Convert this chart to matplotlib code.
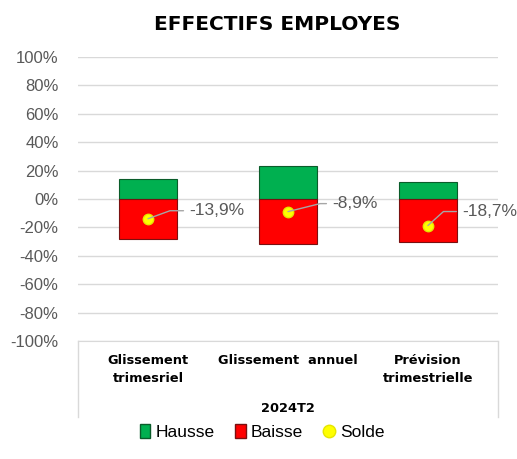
import numpy as np
import matplotlib
matplotlib.use("Agg")
from matplotlib import pyplot as plt
from matplotlib.patches import Patch
from matplotlib.lines import Line2D

categories = ["Glissement\ntrimesriel", "Glissement  annuel", "Prévision\ntrimestrielle"]
hausse = [14.0, 23.1, 11.8]
baisse = [-27.9, -32.0, -30.5]
solde = [-13.9, -8.9, -18.7]
solde_labels = ["-13,9%", "-8,9%", "-18,7%"]
group_label = "2024T2"
yticks = list(range(-100, 101, 20))

plt.rcParams['font.family'] = ['Liberation Sans', 'DejaVu Sans']

fig = plt.figure(figsize=(5.17, 4.59), dpi=100)
ax = fig.add_axes([0.151, 0.257, 0.812, 0.619])

x = np.arange(len(categories))
w = 0.41
ax.bar(x, hausse, w, color="#00B050", edgecolor="#0a5c2a", linewidth=0.8, zorder=2)
ax.bar(x, baisse, w, color="#FF0000", edgecolor="#7a1010", linewidth=0.8, zorder=2)
ax.plot(x, solde, linestyle="none", marker="o", markersize=7.5,
        markerfacecolor="#FFFF00", markeredgecolor="#E6E600", zorder=4)

# etiquettes du solde avec lignes de rappel
offsets = [(41, 8), (44, 8), (34, 14)]
angles = [20, 14, 42]
for xi, v, lab, off, ang in zip(x, solde, solde_labels, offsets, angles):
    ax.annotate(lab, xy=(xi, v), xytext=off, textcoords="offset pixels",
                ha="left", va="center", fontsize=12.5, color="#595959",
                arrowprops=dict(arrowstyle="-", color="#a6a6a6", lw=1,
                                shrinkA=2, shrinkB=0,
                                connectionstyle="angle,angleA=0,angleB=%d,rad=0" % ang),
                zorder=5)

ax.set_xlim(-0.5, 2.5)
ax.set_ylim(-100, 100)
ax.set_yticks(yticks)
ax.set_yticklabels(["%d%%" % t for t in yticks], fontsize=12, color="#595959")
ax.tick_params(axis="y", length=0, pad=14)
ax.yaxis.grid(True, color="#d9d9d9", linewidth=1, zorder=0)
ax.set_axisbelow(True)

ax.set_xticks(x)
ax.set_xticklabels(categories, fontsize=9.3, fontweight="bold", family="DejaVu Sans",
                   linespacing=1.5)
ax.tick_params(axis="x", length=0, pad=9)

for s in ["left", "right", "top"]:
    ax.spines[s].set_visible(False)
ax.spines["bottom"].set_color("#d9d9d9")

# boite de l'axe multi-niveaux
for xa in [0, 1]:
    ax.plot([xa, xa], [0, -0.268], transform=ax.transAxes, color="#d9d9d9",
            lw=1, clip_on=False)
ax.text(0.5, -0.236, group_label, transform=ax.transAxes, ha="center", va="center",
        fontsize=9.3, fontweight="bold", family="DejaVu Sans")

fig.text(277 / 517, 1 - 25 / 459, "EFFECTIFS EMPLOYES", ha="center", va="center",
         fontsize=14.5, fontweight="bold", family="DejaVu Sans")

handles = [
    Patch(facecolor="#00B050", edgecolor="#0a5c2a"),
    Patch(facecolor="#FF0000", edgecolor="#7a1010"),
    Line2D([], [], linestyle="none", marker="o", markersize=9,
           markerfacecolor="#FFFF00", markeredgecolor="#E6E600"),
]
fig.legend(handles, ["Hausse", "Baisse", "Solde"], loc="center",
           bbox_to_anchor=(262 / 517, 1 - 432 / 459), ncol=3, frameon=False,
           fontsize=12.5, handlelength=0.6, handleheight=0.9, handletextpad=0.3,
           columnspacing=1.2)

fig.savefig("out.png", dpi=100)
